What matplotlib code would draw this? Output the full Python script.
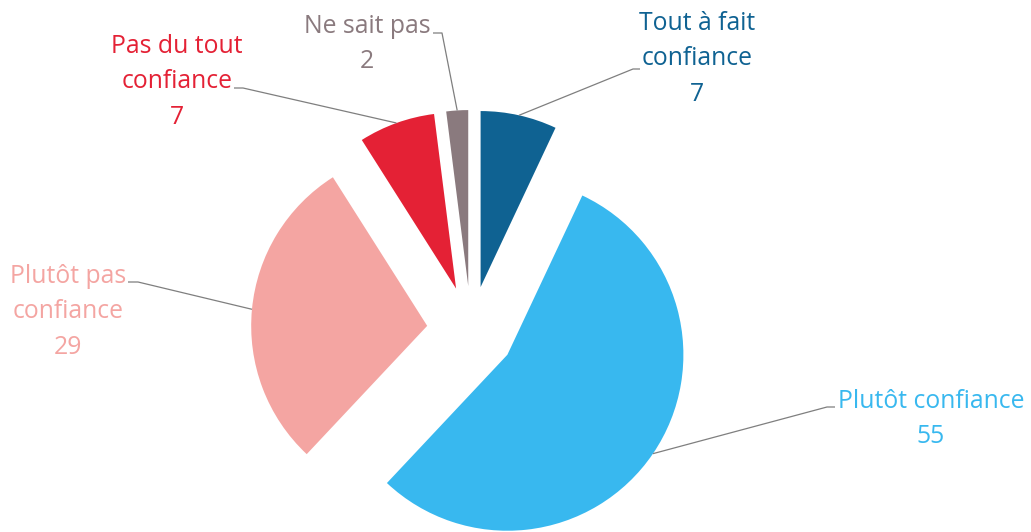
import numpy as np
import matplotlib
matplotlib.use("Agg")
import matplotlib.pyplot as plt

# ------------------------------------
# Data
# ------------------------------------

categories = [
    "Tout à fait\nconfiance",
    "Plutôt confiance",
    "Plutôt pas\nconfiance",
    "Pas du tout\nconfiance",
    "Ne sait pas",
]
values = [7, 55, 29, 7, 2]
colors = ["#0F6292", "#38B8EF", "#F4A5A2", "#E42135", "#8A7A7E"]

# ------------------------------------
# Layout (pixels of the 1031x532 image)
# ------------------------------------

W, H = 1031, 532
CX, CY, R = 471, 330, 176   # pie centre and radius in pixels

# label centre (px), elbow of leader (px), end of leader (px)
label_pos = [(697, 59), (931, 419), (68, 312), (177, 82), (367, 44)]
elbows = [(633, 69), (827, 407), (138, 282), (243, 88), (442, 33)]
ends = [(640, 69), (835, 407), (128, 282), (234, 88), (433, 33)]


def px2d(p):
    return ((p[0] - CX) / R, (CY - p[1]) / R)


fig = plt.figure(figsize=(W / 100, H / 100), dpi=100)
ax = fig.add_axes([0, 0, 1, 1])

wedges, _ = ax.pie(
    values,
    explode=[0.25] * len(values),
    startangle=90,
    counterclock=False,
    radius=1,
    colors=colors,
    wedgeprops=dict(linewidth=0),
)

# pie() resets the limits, so set them afterwards
ax.set_xlim(-CX / R, (W - CX) / R)
ax.set_ylim(-(H - CY) / R, CY / R)
ax.set_aspect("equal")
ax.axis("off")

for w, cat, val, col, lp, el, en in zip(wedges, categories, values, colors,
                                         label_pos, elbows, ends):
    # anchor on the middle of the outer arc
    tm = np.deg2rad((w.theta1 + w.theta2) / 2)
    ax_x = w.center[0] + w.r * np.cos(tm)
    ax_y = w.center[1] + w.r * np.sin(tm)
    ex, ey = px2d(el)
    nx, ny = px2d(en)
    ax.plot([ax_x, ex, nx], [ax_y, ey, ny], color="#7F7F7F", lw=0.9,
            solid_capstyle="butt", zorder=3)

    tx, ty = px2d(lp)
    ax.text(tx, ty, f"{cat}\n{val}", color=col, ha="center", va="center",
            multialignment="center", fontsize=17.8, family="Open Sans",
            linespacing=1.55)

fig.savefig("out.png", dpi=100)
